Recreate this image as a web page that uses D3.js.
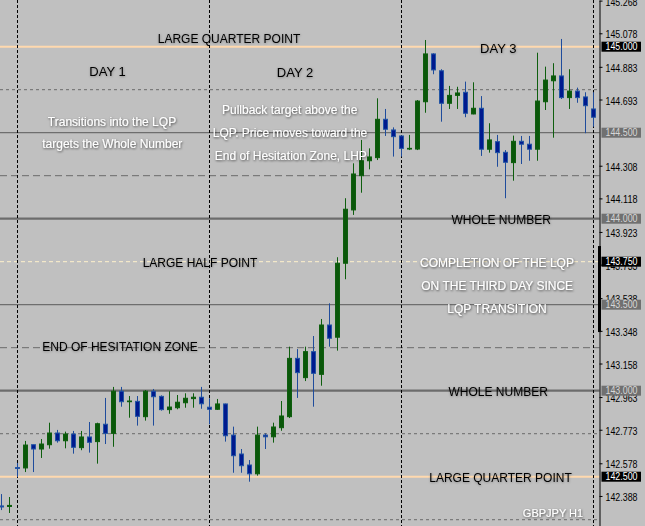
<!DOCTYPE html>
<html>
<head>
<meta charset="utf-8">
<script src="https://cdn.jsdelivr.net/npm/d3@7/dist/d3.min.js"></script>
<style>
  html, body { margin: 0; padding: 0; background: #C0C0C0; }
  svg { display: block; }
</style>
</head>
<body>
<svg id="chart" width="645" height="526"></svg>
<script>
// ---------------- DATA ----------------
const opens = [142.330,142.327,142.553,142.551,142.686,142.661,142.686,142.754,142.709,142.748,
  142.669,142.731,142.704,142.805,142.752,142.997,142.936,142.938,142.849,142.997,
  142.967,142.890,142.901,142.930,142.954,142.962,142.904,142.892,142.923,142.742,
  142.632,142.568,142.517,142.742,142.732,142.785,142.849,143.188,143.076,143.227,
  143.095,143.382,143.311,143.741,144.051,144.250,144.337,144.355,144.578,144.516,
  144.481,144.405,144.405,144.680,144.958,144.860,144.671,144.717,144.735,144.609,
  144.642,144.404,144.448,144.386,144.326,144.450,144.433,144.404,144.680,144.802,
  144.830,144.704,144.742,144.708,144.638];
const highs = [142.399,142.382,142.580,142.708,142.686,142.719,142.814,142.772,142.762,142.766,
  142.766,142.818,142.814,142.958,143.022,143.022,142.969,142.969,143.004,143.010,
  142.973,142.997,142.975,142.985,142.985,143.022,142.956,142.952,142.925,142.791,
  142.661,142.597,142.791,142.752,142.814,142.940,143.256,143.242,143.256,143.318,
  143.417,143.508,143.776,144.119,144.322,144.458,144.409,144.700,144.638,144.531,
  144.483,144.487,144.690,145.039,144.962,144.869,144.772,144.767,144.797,144.793,
  144.713,144.555,144.487,144.399,144.483,144.481,144.481,144.965,144.884,144.904,
  145.045,144.869,144.762,144.735,144.735];
const lows = [142.306,142.289,142.498,142.527,142.527,142.609,142.663,142.698,142.665,142.634,
  142.654,142.640,142.576,142.690,142.674,142.907,142.843,142.797,142.826,142.797,
  142.884,142.866,142.892,142.901,142.901,142.895,142.805,142.888,142.704,142.523,
  142.523,142.471,142.506,142.661,142.698,142.767,142.841,142.958,143.056,142.907,
  143.029,143.256,143.233,143.648,144.022,144.151,144.287,144.341,144.481,144.361,
  144.361,144.399,144.399,144.616,144.840,144.564,144.638,144.638,144.590,144.607,
  144.365,144.384,144.302,144.119,144.221,144.318,144.337,144.337,144.632,144.471,
  144.696,144.638,144.674,144.497,144.535];
const closes = [142.324,142.333,142.548,142.684,142.661,142.690,142.754,142.709,142.748,142.671,
  142.731,142.700,142.808,142.752,142.997,142.936,142.940,142.851,142.997,142.965,
  142.890,142.905,142.933,142.956,142.962,142.924,142.892,142.923,142.738,142.622,
  142.564,142.517,142.742,142.732,142.789,142.853,143.188,143.105,143.227,143.101,
  143.382,143.305,143.741,144.055,144.260,144.337,144.359,144.578,144.520,144.477,
  144.409,144.409,144.684,144.958,144.865,144.671,144.717,144.731,144.613,144.642,
  144.404,144.458,144.384,144.328,144.450,144.433,144.404,144.684,144.806,144.830,
  144.704,144.742,144.704,144.657,144.590];

const dayStartIndex = [2, 26, 50, 74];              // first candle of each day
const quarterLevels = [145.000, 142.500];           // large quarter points
const wholeLevels = [144.000, 143.000];             // whole numbers
const halfLevels = [144.500, 143.500];              // minor half levels
const lhpLevels = [143.750];                        // large half point
const longDashLevels = [144.250, 143.250];
const shortDashLevels = [144.750, 142.750, 142.250];
const axisTicks = [145.268,145.078,144.883,144.693,144.308,144.118,143.923,143.733,143.538,
  143.348,143.158,142.963,142.773,142.578,142.388];
const blackTags = [145.000, 143.750, 142.500];
const grayTags = [144.500, 144.000, 143.500, 143.000];
const thickAxisRange = [143.341, 143.841];

// ---------------- DRAW ----------------
const W = 645, H = 526;
const svg = d3.select('#chart');
const n = opens.length;
const x = d3.scaleLinear().domain([0, 74]).range([1.5, 593.5]);
const y = d3.scaleLinear().domain([145.2715, 142.2134]).range([0, 526]);
const plotRight = 599.5;
const FONT = "'Liberation Sans', Arial, Helvetica, sans-serif";

const defs = svg.append('defs');
const fW = defs.append('filter').attr('id','shW').attr('x','-10%').attr('y','-40%').attr('width','120%').attr('height','180%');
fW.append('feDropShadow').attr('dx',0.6).attr('dy',1).attr('stdDeviation',1.3)
  .attr('flood-color','#000').attr('flood-opacity',0.65);
const fB = defs.append('filter').attr('id','shB').attr('x','-10%').attr('y','-40%').attr('width','120%').attr('height','180%');
fB.append('feDropShadow').attr('dx',0.3).attr('dy',0.6).attr('stdDeviation',1.1)
  .attr('flood-color','#000').attr('flood-opacity',0.35);

svg.append('rect').attr('width', W).attr('height', H).attr('fill', '#C0C0C0');

const lines = svg.append('g');
function hline(levels, color, width, dash) {
  lines.selectAll(null).data(levels).enter().append('line')
    .attr('x1', 0).attr('x2', plotRight)
    .attr('y1', d => y(d)).attr('y2', d => y(d))
    .attr('stroke', color).attr('stroke-width', width)
    .attr('stroke-dasharray', dash || null);
}
hline(shortDashLevels, '#6A6A6A', 1, '3,3');
hline(longDashLevels, '#6A6A6A', 1, '7,4');
hline(halfLevels, '#6E6E6E', 1.2);
hline(wholeLevels, '#6C6C6C', 2.2);
hline(lhpLevels, '#FFF2CC', 1, '4,3');
hline(quarterLevels, '#FFD9AE', 2);

// day separators
lines.selectAll(null).data(dayStartIndex).enter().append('line')
  .attr('x1', d => x(d)).attr('x2', d => x(d))
  .attr('y1', 0).attr('y2', H)
  .attr('stroke', '#000').attr('stroke-width', 1).attr('stroke-dasharray', '3,2');

// candles
const candles = d3.range(n).map(i => ({i, o: opens[i], h: highs[i], l: lows[i], c: closes[i]}));
const cg = svg.append('g');
const isBull = d => d.c >= d.o;
cg.selectAll('line.wick').data(candles).enter().append('line')
  .attr('x1', d => x(d.i)).attr('x2', d => x(d.i))
  .attr('y1', d => y(d.h)).attr('y2', d => y(d.l))
  .attr('stroke', d => isBull(d) ? '#0E5E0E' : '#1F4C9C').attr('stroke-width', 1);
cg.selectAll('rect.body').data(candles).enter().append('rect')
  .attr('x', d => x(d.i) - 2)
  .attr('width', 4)
  .attr('y', d => y(Math.max(d.o, d.c)))
  .attr('height', d => Math.max(0.01, y(Math.min(d.o, d.c)) - y(Math.max(d.o, d.c))))
  .attr('fill', d => isBull(d) ? '#0A570A' : '#001A8E')
  .attr('stroke', d => isBull(d) ? '#0E5E0E' : '#2254A4')
  .attr('stroke-width', 1);

// annotations
const tg = svg.append('g').attr('font-family', FONT);
function txt(s, cx, by, size, color) {
  tg.append('text').attr('x', cx).attr('y', by).attr('text-anchor', 'middle')
    .attr('font-size', size).attr('fill', color)
    .attr('filter', color === '#fff' ? 'url(#shW)' : 'url(#shB)')
    .text(s);
}
txt('LARGE QUARTER POINT', 229, 43.3, 12, '#000');
txt('DAY 1', 107.5, 75.7, 13, '#000');
txt('DAY 2', 295, 76.7, 13, '#000');
txt('DAY 3', 498.3, 53.3, 13, '#000');
txt('Transitions into the LQP', 112, 125.7, 12, '#fff');
txt('targets the Whole Number', 112.3, 147.7, 12, '#fff');
txt('Pullback target above the', 289.7, 114.3, 12, '#fff');
txt('LQP. Price moves toward the', 290, 137.3, 12, '#fff');
txt('End of Hesitation Zone, LHP', 290.8, 160, 12, '#fff');
txt('WHOLE NUMBER', 501.2, 224, 12, '#000');
txt('LARGE HALF POINT', 200, 267, 12, '#000');
txt('COMPLETION OF THE LQP', 497, 266.7, 12, '#fff');
txt('ON THE THIRD DAY SINCE', 497.2, 290, 12, '#fff');
txt('LQP TRANSITION', 497, 312.7, 12, '#fff');
txt('END OF HESITATION ZONE', 120, 351, 12, '#000');
txt('WHOLE NUMBER', 498.2, 395.7, 12, '#000');
txt('LARGE QUARTER POINT', 500.5, 481.7, 12, '#000');
txt('GBPJPY H1', 553, 516.7, 11, '#fff');

// price axis
const axis = d3.axisRight(y).tickValues(axisTicks).tickSize(3).tickSizeOuter(0)
  .tickFormat(d3.format('.3f'));
const ag = svg.append('g').attr('transform', `translate(${plotRight},0)`).call(axis);
ag.select('.domain').attr('stroke', '#000').attr('stroke-width', 1);
ag.selectAll('.tick line').attr('stroke', '#000');
ag.selectAll('.tick text').attr('font-family', FONT).attr('font-size', 10)
  .attr('fill', '#000').attr('x', 6).attr('dy', '0.45em')
  .attr('textLength', 32).attr('lengthAdjust', 'spacingAndGlyphs');

// thick axis segment
svg.append('rect').attr('x', 598).attr('width', 3)
  .attr('y', y(thickAxisRange[1])).attr('height', y(thickAxisRange[0]) - y(thickAxisRange[1]))
  .attr('fill', '#000');

// price tags
const tagG = svg.append('g').attr('font-family', FONT).attr('font-size', 10);
function tags(vals, bg, fg) {
  const g = tagG.selectAll(null).data(vals).enter().append('g');
  g.append('rect').attr('x', 601.5).attr('width', 39.5)
    .attr('y', d => y(d) - 5).attr('height', 10).attr('fill', bg);
  g.append('text').attr('x', 605.5).attr('y', d => y(d)).attr('dy', '0.36em')
    .attr('textLength', 32).attr('lengthAdjust', 'spacingAndGlyphs')
    .attr('fill', fg).text(d => d3.format('.3f')(d));
}
tags(grayTags, '#707070', '#D6D6D6');
tags(blackTags, '#000', '#fff');
</script>
</body>
</html>
